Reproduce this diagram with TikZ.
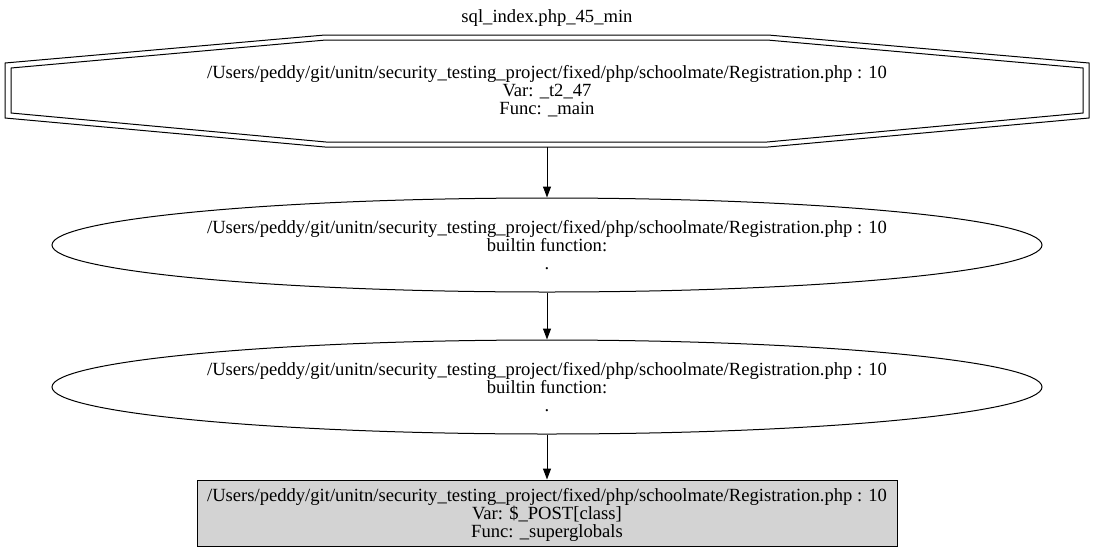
\documentclass[tikz,border=0pt]{standalone}
\usepackage{fontspec}
\setmainfont{Liberation Serif}
\usetikzlibrary{arrows.meta,shapes.geometric}
\tikzset{
  lbl/.style={align=center,font=\fontsize{18.6}{18}\selectfont,inner sep=0pt},
  ell/.style={draw,ellipse,line width=1pt,minimum width=990pt,minimum height=94pt,inner sep=0pt},
  gbox/.style={draw,line width=1pt,fill={rgb,255:red,211;green,211;blue,211},minimum width=700pt,minimum height=66pt,inner sep=0pt},
  edge/.style={line width=1pt,-{Triangle[length=11pt,width=8pt]}},
  oct/.style={line width=1pt}
}
\begin{document}
\begin{tikzpicture}[x=1pt,y=-1pt]
\useasboundingbox (0,0) rectangle (1094,552);
\node[lbl] (title) at (547,18) {sql\_index.php\_45\_min};
\draw[oct] (5,63) -- (325,35) -- (768,35) -- (1089,63) -- (1089,118) -- (768,147) -- (325,147) -- (5,118) -- cycle;
\draw[oct] (11,68) -- (326,40) -- (767,40) -- (1083,68) -- (1083,113) -- (767,142) -- (326,142) -- (11,113) -- cycle;
\node[lbl] (n1) at (547,91) {/Users/peddy/git/unitn/security\_testing\_project/fixed/php/schoolmate/Registration.php : 10\\Var: \_t2\_47\\Func: \_main};
\coordinate (n1b) at (547,147);
\node[ell] (n2) at (547,245) {};
\node[lbl] (t2) at (547,245) {/Users/peddy/git/unitn/security\_testing\_project/fixed/php/schoolmate/Registration.php : 10\\builtin function:\\.};
\node[ell] (n3) at (547,387) {};
\node[lbl] (t3) at (547,387) {/Users/peddy/git/unitn/security\_testing\_project/fixed/php/schoolmate/Registration.php : 10\\builtin function:\\.};
\node[gbox] (n4) at (547,513) {};
\node[lbl] (t4) at (547,515) {/Users/peddy/git/unitn/security\_testing\_project/fixed/php/schoolmate/Registration.php : 10\\Var: \$\_POST[class]\\Func: \_superglobals};
\draw[edge] (n1b) -- (n2.north);
\draw[edge] (n2.south) -- (n3.north);
\draw[edge] (n3.south) -- (n4.north);
\end{tikzpicture}
\end{document}
